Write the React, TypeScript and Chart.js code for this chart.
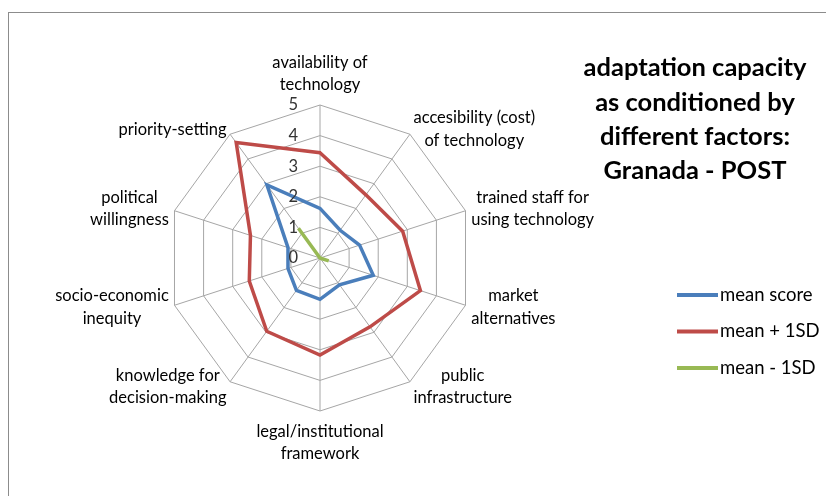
import React, { useEffect, useRef } from "react";
import { Chart, registerables } from "chart.js";

Chart.register(...registerables);

// ---- data ----
const categories: string[][] = [
  ["availability of", "technology"],
  ["accesibility (cost)", "of technology"],
  ["trained staff for", "using technology"],
  ["market", "alternatives"],
  ["public", "infrastructure"],
  ["legal/institutional", "framework"],
  ["knowledge for", "decision-making"],
  ["socio-economic", "inequity"],
  ["political", "willingness"],
  ["priority-setting"],
];
const meanScore = [1.62, 1.12, 1.36, 1.83, 1.08, 1.35, 1.31, 1.1, 1.1, 2.95];
const meanPlus1SD = [3.44, 2.55, 2.84, 3.45, 2.78, 3.17, 2.96, 2.43, 2.39, 4.66];
const meanMinus1SD = [0, 0, 0, 0.3, 0, 0, 0, 0, 0, 1.2];
const tickValues = [0, 1, 2, 3, 4, 5];
const seriesNames = ["mean score", "mean + 1SD", "mean - 1SD"];
const seriesColors = ["#4A7EBB", "#BE4B48", "#98B954"];
const titleLines = ["adaptation capacity", "as conditioned by", "different factors:", "Granada - POST"];

const FONT = "Lato, 'Open Sans', sans-serif";

const decorPlugin = {
  id: "decor",
  beforeDraw(chart: any) {
    const ctx = chart.ctx;
    ctx.save();
    ctx.fillStyle = "#ffffff";
    ctx.fillRect(0, 0, chart.width, chart.height);
    ctx.strokeStyle = "#8c8c8c";
    ctx.lineWidth = 1;
    ctx.strokeRect(8.5, 12.5, chart.width + 20, chart.height + 20);
    ctx.restore();
  },
  afterDraw(chart: any) {
    const ctx = chart.ctx;
    const scale = chart.scales.r;
    const R = scale.drawingArea;
    ctx.save();

    // point labels (lines centred, like the original)
    ctx.font = `16.5px ${FONT}`;
    ctx.fillStyle = "#000000";
    ctx.textAlign = "center";
    ctx.textBaseline = "middle";
    const lineH = 22.5;
    categories.forEach((lines, i) => {
      const deg = Math.round((scale.getIndexAngle(i) * 180) / Math.PI) % 360;
      const vertical = deg === 0 || deg === 180;
      const p = scale.getPointPosition(i, R + (vertical ? 9 : 6));
      const w = Math.max(...lines.map((l) => ctx.measureText(l).width));
      const h = lines.length * lineH;
      let cx = p.x;
      let top = p.y - h / 2;
      if (deg === 0) top = p.y - h;
      else if (deg === 180) top = p.y;
      else if (deg < 180) cx = p.x + w / 2;
      else cx = p.x - w / 2;
      lines.forEach((l, k) => ctx.fillText(l, cx, top + lineH * (k + 0.5)));
    });

    // tick labels
    ctx.font = `16.5px ${FONT}`;
    ctx.fillStyle = "#333333";
    ctx.textAlign = "right";
    tickValues.forEach((v) => {
      const p = scale.getPointPositionForValue(0, v);
      ctx.fillText(String(v), scale.xCenter - 22, p.y);
    });

    // title
    ctx.font = `bold 25.5px ${FONT}`;
    ctx.fillStyle = "#000000";
    ctx.textAlign = "center";
    titleLines.forEach((t, i) => ctx.fillText(t, 695, 68 + i * 34.3));

    // legend
    ctx.font = `18.5px ${FONT}`;
    ctx.textAlign = "left";
    chart.data.datasets.forEach((ds: any, i: number) => {
      const y = 295 + i * 36.5;
      ctx.strokeStyle = ds.borderColor;
      ctx.lineWidth = 4;
      ctx.beginPath();
      ctx.moveTo(677, y);
      ctx.lineTo(718, y);
      ctx.stroke();
      ctx.fillStyle = "#000000";
      ctx.fillText(ds.label, 720, y);
    });
    ctx.restore();
  },
};

export default function App() {
  const ref = useRef<HTMLCanvasElement | null>(null);
  useEffect(() => {
    if (!ref.current) return;
    const chart = new Chart(ref.current, {
      type: "radar",
      data: {
        labels: categories,
        datasets: [meanScore, meanPlus1SD, meanMinus1SD].map((d, i) => ({
          label: seriesNames[i],
          data: d,
          borderColor: seriesColors[i],
          backgroundColor: seriesColors[i],
          borderWidth: 3.5,
          fill: false,
          pointRadius: 0,
          tension: 0,
        })),
      },
      options: {
        responsive: false,
        animation: false,
        layout: { padding: { left: 167, right: 353, top: 105, bottom: 85 } },
        plugins: {
          legend: { display: false },
          tooltip: { enabled: false },
          title: { display: false },
        },
        scales: {
          r: {
            min: 0,
            max: 5,
            ticks: { display: false, stepSize: 1 },
            pointLabels: { display: false },
            grid: { color: "#a6a6a6", lineWidth: 1 },
            angleLines: { color: "#a6a6a6", lineWidth: 1 },
          },
        },
      },
      plugins: [decorPlugin],
    });
    return () => chart.destroy();
  }, []);
  return (
    <canvas
      ref={ref}
      width={826}
      height={496}
      style={{ position: "fixed", left: 0, top: 0, width: 826, height: 496 }}
    />
  );
}
